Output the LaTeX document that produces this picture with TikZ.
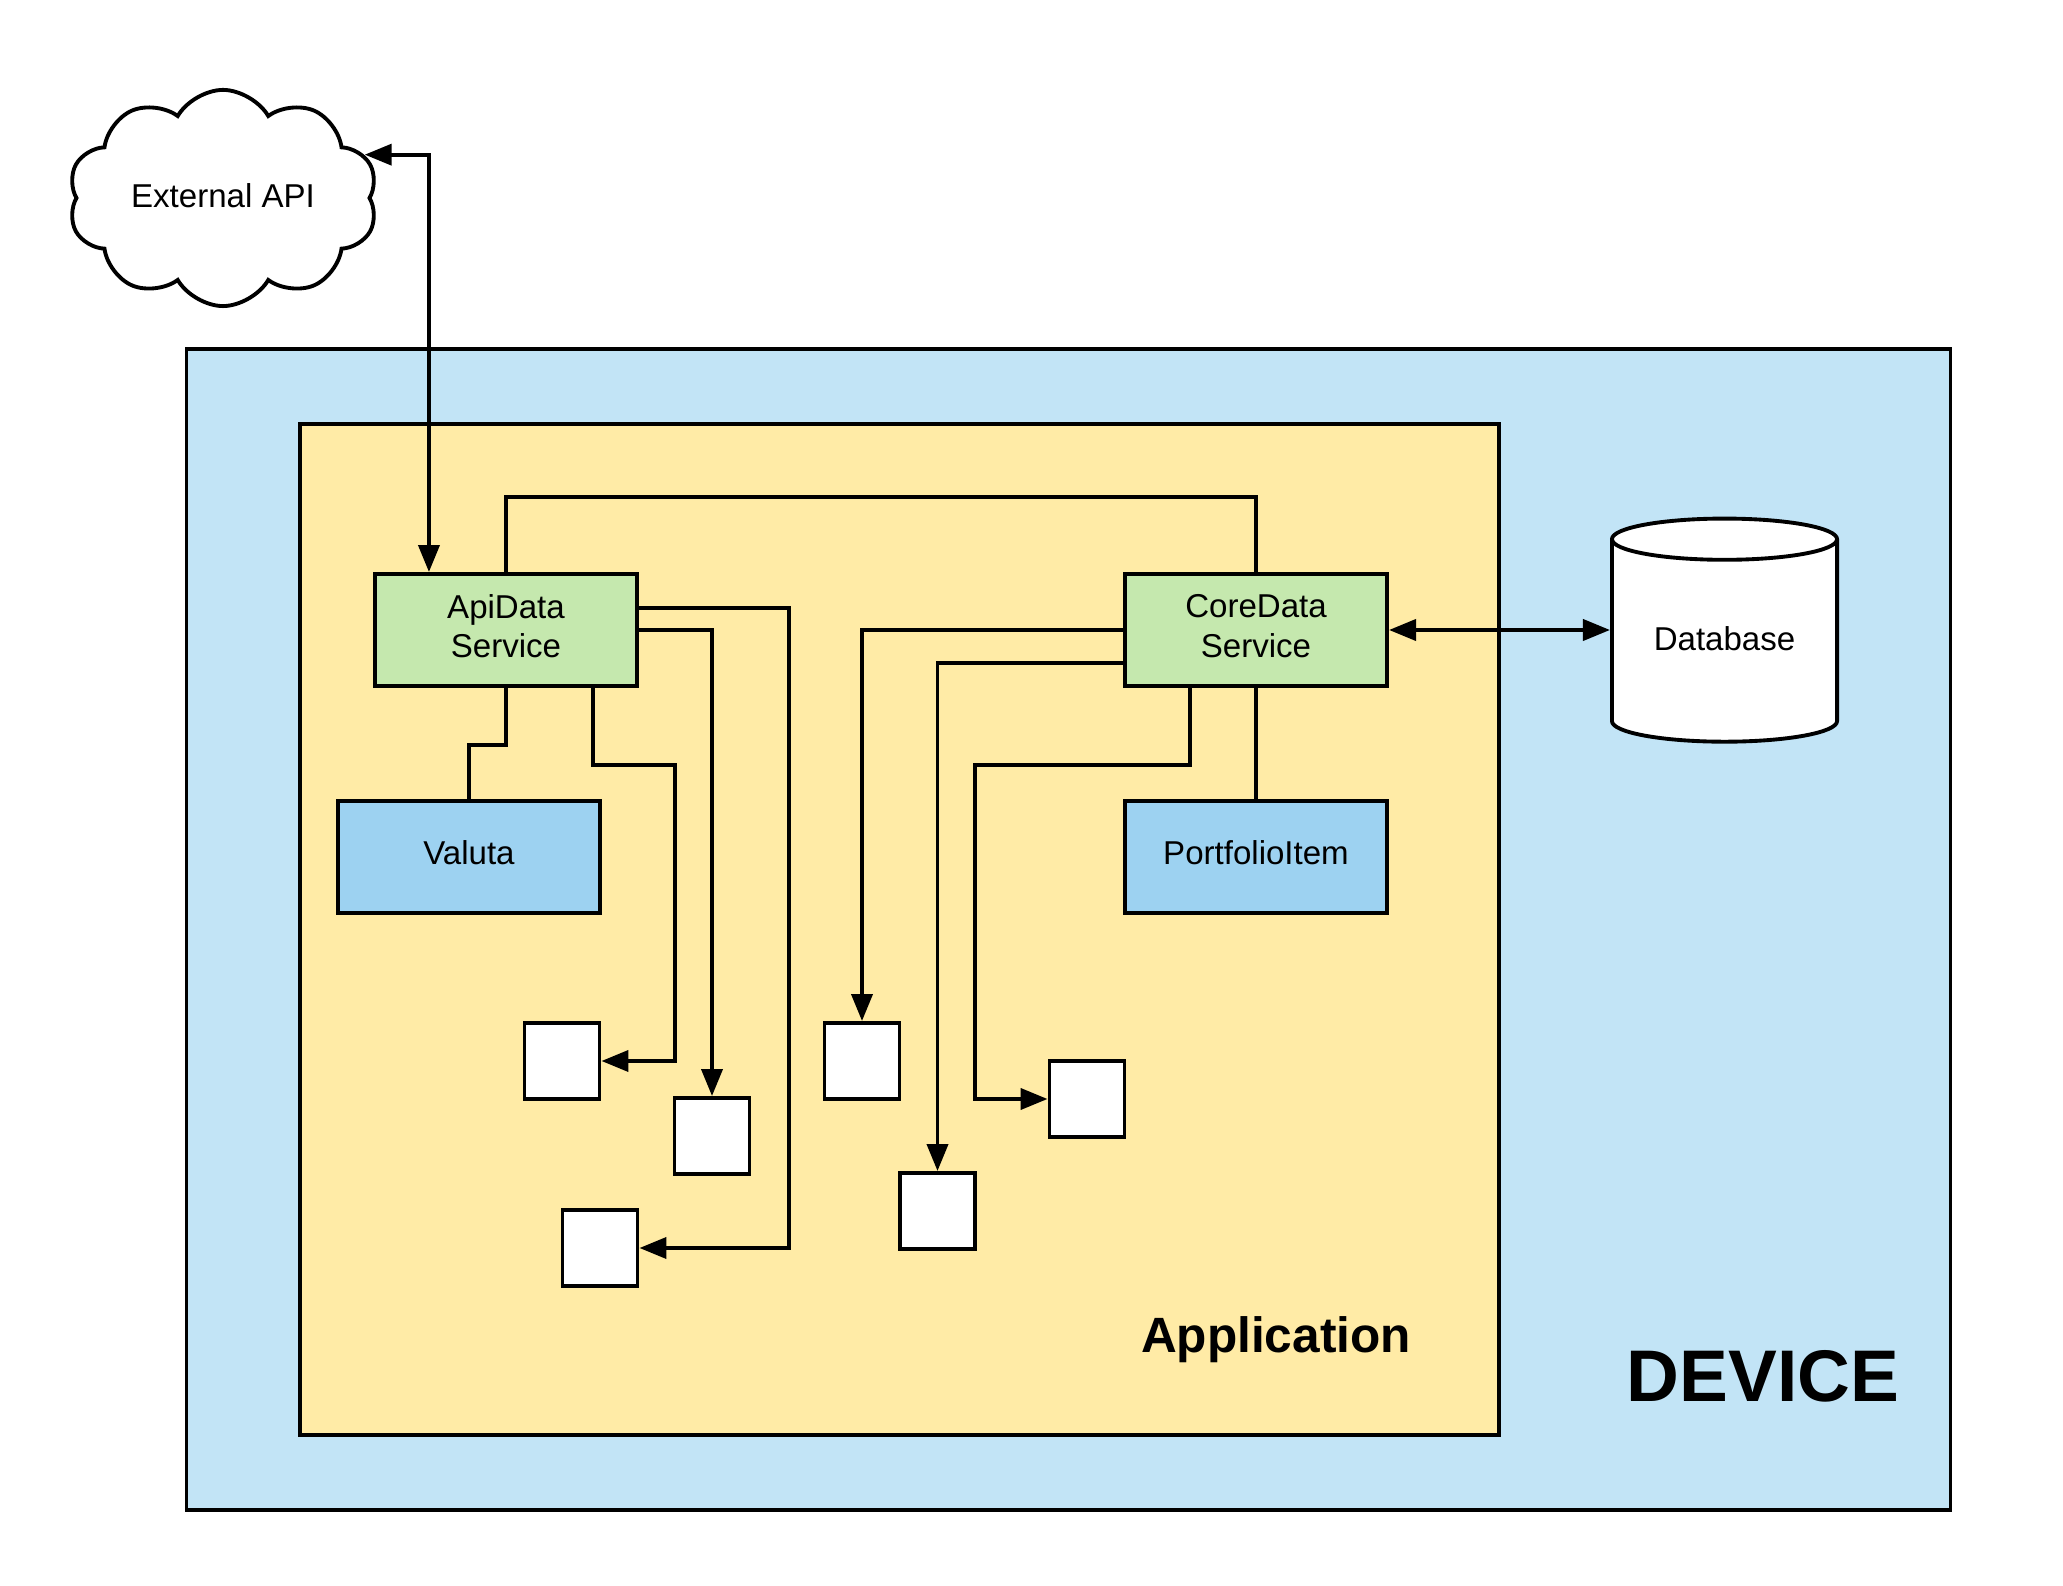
\documentclass[tikz,border=0pt]{standalone}
\usepackage{fontspec}
\setmainfont{Liberation Sans}
\usetikzlibrary{shapes.geometric, shapes.symbols, arrows.meta}

\definecolor{devblue}{RGB}{194,228,246}
\definecolor{appyellow}{RGB}{255,235,166}
\definecolor{servgreen}{RGB}{197,232,174}
\definecolor{modelblue}{RGB}{157,210,241}

\tikzstyle{container} = [rectangle, draw=black, line width=1.1pt]
\tikzstyle{service} = [rectangle, minimum width=2.62cm, minimum height=1.12cm, text centered, align=center, text depth=2.2pt, draw=black, line width=1.1pt, fill=servgreen]
\tikzstyle{model} = [rectangle, minimum width=2.62cm, minimum height=1.12cm, text centered, text depth=2.2pt, draw=black, line width=1.1pt, fill=modelblue]
\tikzstyle{slot} = [rectangle, minimum width=0.75cm, minimum height=0.76cm, draw=black, line width=1.1pt, fill=white]
\tikzstyle{link} = [draw, line width=1.1pt]
\tikzstyle{feed} = [link, -{Triangle[length=2.7mm,width=2.1mm]}]
\tikzstyle{sync} = [link, {Triangle[length=2.7mm,width=2.1mm]}-{Triangle[length=2.7mm,width=2.1mm]}]

\begin{document}
\begin{tikzpicture}[x=0.01cm, y=-0.01cm, node distance=2.265cm, font=\fontsize{9.4}{11.2}\selectfont]
        \useasboundingbox (0,0) rectangle (2063,1586);

        % device and application frames
        \node[container, fill=devblue, minimum width=17.63cm, minimum height=11.61cm] (device) at (1068.5,929.5) {};
        \node[container, fill=appyellow, minimum width=11.99cm, minimum height=10.11cm] (app) at (899.5,929.5) {};
        \node[anchor=base, font=\bfseries\fontsize{20.8}{25}\selectfont] (devlabel) at (1763,1402) {DEVICE};
        \node[anchor=base, font=\bfseries\fontsize{14.1}{17}\selectfont] (applabel) at (1276,1353) {Application};

        \node[service] (apidata) at (506,630) {ApiData\\Service};
        \node[service] (coredata) at (1256,630) {CoreData\\Service};
        \node[model, below of=apidata, xshift=-0.37cm] (valuta) {Valuta};
        \node[model, below of=coredata] (portfolio) {PortfolioItem};

        \node[cloud, draw=black, fill=white, line width=1.1pt, cloud puffs=10, cloud puff arc=120, aspect=1.7, text depth=1.5pt, minimum width=2.85cm, minimum height=1cm] (extapi) at (223,198) {External API};
        \node[cylinder, shape border rotate=90, aspect=0.25, draw=black, fill=white, line width=1.1pt, text depth=4.5pt, minimum width=2.25cm, minimum height=2.23cm] (database) at (1724.5,646) {Database};

        \node[slot] (box1) at (562,1061) {};
        \node[slot] (box2) at (712,1136) {};
        \node[slot] (box3) at (600,1248) {};
        \node[slot] (box4) at (862,1061) {};
        \node[slot] (box5) at (937.5,1211) {};
        \node[slot] (box6) at (1087,1099) {};

        \draw [sync] (extapi.17) -| ([xshift=-0.77cm]apidata.north);
        \draw [link] (apidata.north) -- ++(0,-75) -| (coredata.north);
        \draw [link] (apidata.south) -- ++(0,57) -| (valuta.north);
        \draw [feed] ([xshift=0.87cm]apidata.south) -- ++(0,77) -- ++(82,0) |- (box1);
        \draw [feed] (apidata.east) -| (box2);
        \draw [feed] ([yshift=0.22cm]apidata.east) -- ++(150,0) |- (box3);
        \draw [feed] (coredata.west) -| (box4);
        \draw [feed] ([yshift=-0.33cm]coredata.west) -| (box5);
        \draw [feed] ([xshift=-0.66cm]coredata.south) -- ++(0,77) -- ++(-215,0) |- (box6);
        \draw [link] (coredata) -- (portfolio);
        \draw [sync] (coredata.east) -- (coredata.east -| database.west);
    \end{tikzpicture}
\end{document}
